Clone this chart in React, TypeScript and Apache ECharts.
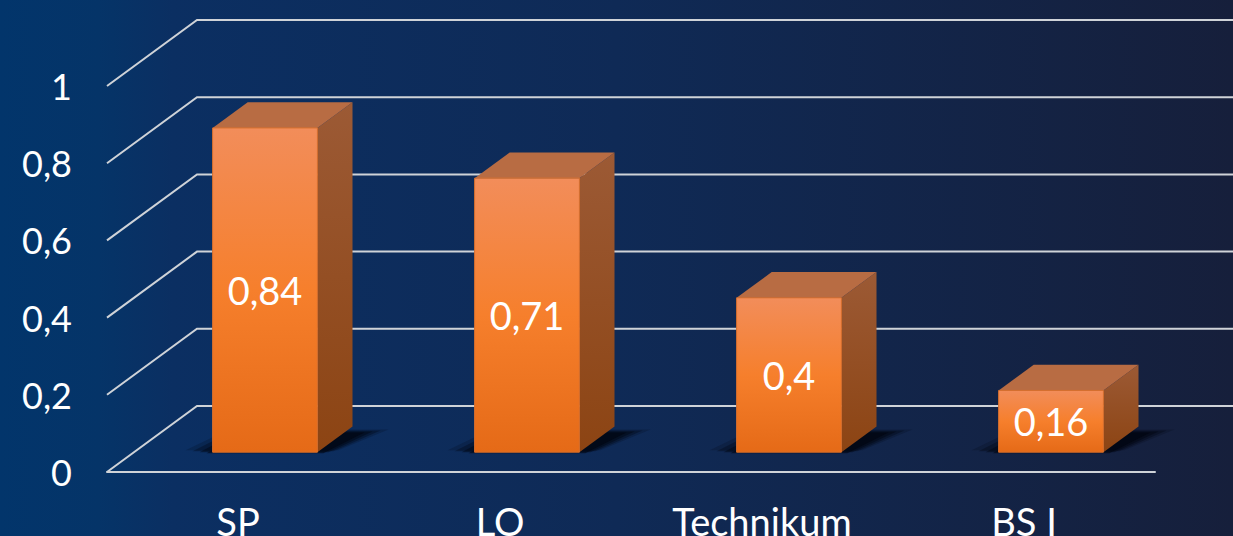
import React, { useEffect, useRef } from "react";
import * as echarts from "echarts";

const CATEGORIES = ["SP", "LO", "Technikum", "BS I"];
const VALUES = [0.84, 0.71, 0.4, 0.16];
const TICKS = [0, 0.2, 0.4, 0.6, 0.8, 1];

const FONT = "Lato, 'Noto Sans', sans-serif";
const DEPTH_X = 90;
const DEPTH_Y = -66;
const BAR_POS = 0.3;
const BAR_DEPTH = 0.39;
const LINE_COLOR = "#cfd3d8";

const fmt = (v: number) => String(v).replace(".", ",");

export default function App() {
  const ref = useRef<HTMLDivElement>(null);
  useEffect(() => {
    if (!ref.current) return;
    const chart = echarts.init(ref.current, undefined, { renderer: "svg" });
    const bg = new echarts.graphic.LinearGradient(0, 0, 1, 0, [
      { offset: 0, color: "#02356b" },
      { offset: 0.08, color: "#053468" },
      { offset: 0.14, color: "#0b2f62" },
      { offset: 0.5, color: "#0f2a56" },
      { offset: 1, color: "#161f3b" },
    ]);
    chart.setOption({
      animation: false,
      backgroundColor: bg,
      grid: {
        left: 107,
        right: 78,
        top: 86,
        bottom: 64,
        containLabel: false,
        outerBoundsMode: "none",
      },
      xAxis: {
        type: "category",
        data: CATEGORIES,
        axisLine: { show: true, lineStyle: { color: LINE_COLOR, width: 2 } },
        axisTick: { show: false },
        axisLabel: { color: "#ffffff", fontSize: 38, fontFamily: FONT, margin: 30 },
        splitLine: { show: false },
      },
      yAxis: {
        type: "value",
        min: 0,
        max: 1,
        interval: 0.2,
        axisLine: { show: false },
        axisTick: { show: false },
        splitLine: { show: false },
        axisLabel: {
          color: "#ffffff",
          fontSize: 36,
          fontFamily: FONT,
          margin: 35,
          formatter: (v: number) => fmt(Math.round(v * 10) / 10),
        },
      },
      series: [
        {
          type: "custom",
          silent: true,
          clip: false,
          data: TICKS.map((t) => [0, t]),
          renderItem: (params: any, api: any) => {
            const cs = params.coordSys;
            const y = api.coord([0, api.value(1)])[1];
            return {
              type: "polyline",
              shape: {
                points: [
                  [cs.x, y],
                  [cs.x + DEPTH_X, y + DEPTH_Y],
                  [cs.x + cs.width + DEPTH_X + 50, y + DEPTH_Y],
                ],
              },
              style: { stroke: LINE_COLOR, lineWidth: 2, fill: "none" },
            };
          },
        },
        {
          type: "custom",
          clip: false,
          data: VALUES.map((v, i) => [i, v]),
          renderItem: (params: any, api: any) => {
            const idx = api.value(0);
            const val = api.value(1);
            const base = api.coord([idx, 0]);
            const top = api.coord([idx, val]);
            const band = api.size([1, 0])[0];
            const W = band * 0.4;
            const ox = DEPTH_X * BAR_POS;
            const oy = DEPTH_Y * BAR_POS;
            const bdx = DEPTH_X * BAR_DEPTH;
            const bdy = DEPTH_Y * BAR_DEPTH;
            const x0 = base[0] + ox - W / 2;
            const x1 = x0 + W;
            const yb = base[1] + oy;
            const yt = top[1] + oy;
            const front = new echarts.graphic.LinearGradient(0, 0, 0, 1, [
              { offset: 0, color: "#f28d5a" },
              { offset: 0.5, color: "#f67f2c" },
              { offset: 1, color: "#e56a17" },
            ]);
            const side = new echarts.graphic.LinearGradient(0, 0, 0, 1, [
              { offset: 0, color: "#9c5a35" },
              { offset: 1, color: "#8c4413" },
            ]);
            const shadowLayers = [0, 1, 2, 3].map((k) => ({
              type: "polygon",
              shape: {
                points: [
                  [x0 - 6 - k * 7, yb + 1 - k],
                  [x1 + 6 + k * 5, yb + 1 - k],
                  [x1 + bdx + 12 + k * 8, yb + bdy + 6 - k],
                  [x0 + bdx - 4 - k * 5, yb + bdy + 6 - k],
                ],
              },
              style: { fill: "rgba(0,4,14," + (0.55 - k * 0.12) + ")" },
            }));
            return {
              type: "group",
              children: [
                ...shadowLayers.reverse(),
                {
                  type: "polygon",
                  shape: {
                    points: [
                      [x1, yt],
                      [x1 + bdx, yt + bdy],
                      [x1 + bdx, yb + bdy],
                      [x1, yb],
                    ],
                  },
                  style: { fill: side },
                },
                {
                  type: "polygon",
                  shape: {
                    points: [
                      [x0, yt],
                      [x0 + bdx, yt + bdy],
                      [x1 + bdx, yt + bdy],
                      [x1, yt],
                    ],
                  },
                  style: { fill: "#b86c43" },
                },
                {
                  type: "rect",
                  shape: { x: x0, y: yt, width: W, height: yb - yt },
                  style: { fill: front, stroke: "#d8702e", lineWidth: 1 },
                },
                {
                  type: "text",
                  style: {
                    text: fmt(val),
                    x: x0 + W / 2,
                    y: (yt + yb) / 2,
                    fill: "#ffffff",
                    fontSize: 38,
                    fontFamily: FONT,
                    align: "center",
                    verticalAlign: "middle",
                  },
                },
              ],
            };
          },
        },
      ],
    });
    return () => chart.dispose();
  }, []);
  return (
    <div
      ref={ref}
      style={{ position: "fixed", left: 0, top: 0, width: 1233, height: 536 }}
    />
  );
}
